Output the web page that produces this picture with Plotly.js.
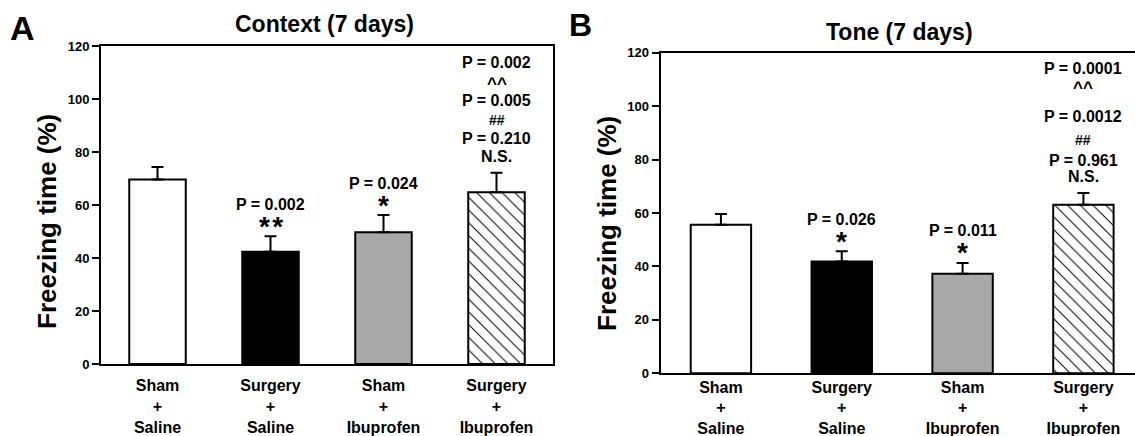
<!DOCTYPE html>
<html>
<head>
<meta charset="utf-8">
<script src="https://cdn.plot.ly/plotly-3.0.1.min.js"></script>
<style>html,body{margin:0;padding:0;background:#fff;}#chart{width:1135px;height:436px;}</style>
</head>
<body>
<div id="chart"></div>
<script>
// ---- data ----
const categories = ['Sham<br>+<br>Saline', 'Surgery<br>+<br>Saline', 'Sham<br>+<br>Ibuprofen', 'Surgery<br>+<br>Ibuprofen'];
const contextMean = [69.6, 42.4, 49.7, 64.8];
const contextSEM  = [4.7, 5.8, 6.5, 7.4];
const toneMean    = [55.6, 41.8, 37.3, 63.1];
const toneSEM     = [4.0, 3.9, 4.0, 4.4];
const contextSig  = [[], ['P = 0.002', '**'], ['P = 0.024', '*'], ['P = 0.002', '^^', 'P = 0.005', '##', 'P = 0.210', 'N.S.']];
const toneSig     = [[], ['P = 0.026', '*'], ['P = 0.011', '*'], ['P = 0.0001', '^^', 'P = 0.0012', '##', 'P = 0.961', 'N.S.']];
const yTicks = [0, 20, 40, 60, 80, 100, 120];
const panelTitles = ['Context (7 days)', 'Tone (7 days)'];
const panelLetters = ['A', 'B'];
const yTitle = 'Freezing time (%)';

// ---- style ----
const W = 1135, H = 436;
const FONT = 'Arial, "Liberation Sans", Helvetica, sans-serif';
const px = x => x / W;
const py = y => 1 - y / H;
const barColors = ['#ffffff', '#000000', '#a8a8a8', '#ffffff'];
const barShapes = ['', '', '', '\\'];

// one trace per bar so each bar can carry its own fill pattern
function barTraces(mean, sem, xa, ya) {
  return categories.map((c, i) => {
    const marker = {color: barColors[i], line: {color: '#000', width: 2}};
    if (barShapes[i]) {
      marker.pattern = {shape: barShapes[i], fgcolor: '#000', bgcolor: '#ffffff', fillmode: 'replace', size: 9, solidity: 0.11};
    }
    return {
      type: 'bar', x: [c], y: [mean[i]], xaxis: xa, yaxis: ya, width: 0.5,
      marker: marker,
      error_y: {type: 'data', symmetric: false, array: [sem[i]], arrayminus: [0],
                color: '#000', thickness: 2, width: 6},
      hoverinfo: 'skip', showlegend: false
    };
  });
}

const shortOffsets = [32, 13];
function sigAnnotations(sig, mean, sem, xa, ya, longOffsets) {
  const out = [];
  sig.forEach((labels, i) => {
    const offs = labels.length > 2 ? longOffsets : shortOffsets;
    labels.forEach((t, j) => {
      const isStar = t.indexOf('*') >= 0;
      const size = isStar ? 28 : (t === '^^' ? 17 : (t === '##' ? 14 : 16));
      out.push({
        xref: xa, yref: ya, x: categories[i], y: mean[i] + sem[i],
        text: isStar ? t.split('').join('\u200A') : t,
        showarrow: false, yanchor: 'middle', xanchor: 'center',
        yshift: offs[j] - (isStar ? 3 : 0) - (t === '^^' ? 2 : 0),
        font: {family: FONT, size: size, color: '#000', weight: 'bold'}
      });
    });
  });
  return out;
}

const axisCommon = {showline: true, linecolor: '#000', linewidth: 2, showgrid: false, zeroline: false};

const layout = {
  width: W, height: H,
  margin: {l: 0, r: 0, t: 0, b: 0},
  paper_bgcolor: '#fff', plot_bgcolor: '#fff',
  font: {family: FONT, color: '#000'},
  barmode: 'overlay',
  xaxis: Object.assign({}, axisCommon, {
    domain: [px(101), px(553)], anchor: 'y', type: 'category', range: [-0.5, 3.5],
    mirror: true, ticks: '', tickfont: {size: 16, weight: 'bold', family: FONT}, ticklabelstandoff: 6
  }),
  yaxis: Object.assign({}, axisCommon, {
    domain: [py(364), py(46)], anchor: 'x', range: [0, 120], tickvals: yTicks,
    mirror: true, ticks: 'outside', ticklen: 7, tickwidth: 2, tickcolor: '#000',
    tickfont: {size: 13, weight: 'bold', family: FONT}
  }),
  xaxis2: Object.assign({}, axisCommon, {
    domain: [px(660.5), 1], anchor: 'y2', type: 'category', range: [-0.5, 3.427],
    mirror: true, ticks: '', tickfont: {size: 16, weight: 'bold', family: FONT}, ticklabelstandoff: -2
  }),
  yaxis2: Object.assign({}, axisCommon, {
    domain: [py(373.3), py(52.7)], anchor: 'x2', range: [0, 120], tickvals: yTicks,
    mirror: false, ticks: 'outside', ticklen: 7, tickwidth: 2, tickcolor: '#000',
    tickfont: {size: 13, weight: 'bold', family: FONT}
  }),
  annotations: []
};

const ann = layout.annotations;
ann.push({xref: 'paper', yref: 'paper', x: px(22), y: py(28), text: panelLetters[0], showarrow: false,
          xanchor: 'center', yanchor: 'middle', font: {family: FONT, size: 34, weight: 'bold'}});
ann.push({xref: 'paper', yref: 'paper', x: px(580), y: py(25), text: panelLetters[1], showarrow: false,
          xanchor: 'center', yanchor: 'middle', font: {family: FONT, size: 32, weight: 'bold'}});
ann.push({xref: 'paper', yref: 'paper', x: px(324), y: py(24), text: panelTitles[0], showarrow: false,
          xanchor: 'center', yanchor: 'middle', font: {family: FONT, size: 23, weight: 'bold'}});
ann.push({xref: 'paper', yref: 'paper', x: px(900), y: py(32), text: panelTitles[1], showarrow: false,
          xanchor: 'center', yanchor: 'middle', font: {family: FONT, size: 23, weight: 'bold'}});
ann.push({xref: 'paper', yref: 'paper', x: px(47), y: py(222), text: yTitle, showarrow: false, textangle: -90,
          xanchor: 'center', yanchor: 'middle', font: {family: FONT, size: 26, weight: 'bold'}});
ann.push({xref: 'paper', yref: 'paper', x: px(607), y: py(224), text: yTitle, showarrow: false, textangle: -90,
          xanchor: 'center', yanchor: 'middle', font: {family: FONT, size: 26, weight: 'bold'}});

ann.push(...sigAnnotations(contextSig, contextMean, contextSEM, 'x', 'y', [110, 91, 72, 53, 34, 16]));
ann.push(...sigAnnotations(toneSig, toneMean, toneSEM, 'x2', 'y2', [124, 107, 76, 53, 32, 16]));

const traces = barTraces(contextMean, contextSEM, 'x', 'y').concat(barTraces(toneMean, toneSEM, 'x2', 'y2'));
Plotly.newPlot('chart', traces, layout, {displayModeBar: false});
</script>
</body>
</html>
